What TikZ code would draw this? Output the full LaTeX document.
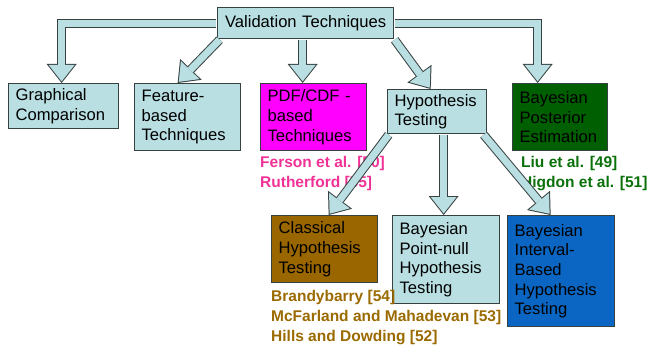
\documentclass[tikz,border=0pt]{standalone}
\usepackage{fontspec}
\setmainfont{Liberation Sans}
\usepackage{xcolor}
\usetikzlibrary{arrows.meta,positioning}

\definecolor{boxblue}{RGB}{185,223,226}
\definecolor{edgegray}{RGB}{55,65,65}
\definecolor{pdfpink}{RGB}{255,0,255}
\definecolor{postgreen}{RGB}{0,95,0}
\definecolor{clasbrown}{RGB}{153,102,0}
\definecolor{intvblue}{RGB}{10,102,194}
\definecolor{refpink}{RGB}{240,50,150}
\definecolor{refgreen}{RGB}{10,112,10}
\definecolor{refbrown}{RGB}{154,106,0}

\begin{document}
\begin{tikzpicture}[
  x=1pt, y=-1pt,
  box/.style 2 args={draw=edgegray, line width=1.3pt, fill=boxblue, anchor=north west,
    align=left, inner xsep=7pt, inner ysep=0pt, minimum width=#1pt, text width=#1pt-14pt,
    minimum height=#2pt, font=\fontsize{16.6}{19.6}\selectfont},
  refs/.style={anchor=north west, inner sep=0pt, align=left,
    font=\fontsize{15.5}{20}\selectfont\bfseries},
  fat/.style={draw=edgegray, line width=9pt, line join=miter, shorten <=0.6pt,
    -{Triangle[length=19pt, width=30pt, line width=0pt]},
    postaction={draw=boxblue, line width=7pt, line join=miter, shorten >=1.6pt,
      -{Triangle[length=16.4pt, width=25.9pt, line width=0pt]}}}
]
\useasboundingbox (0,0) rectangle (647,350);

% top row
\node[box={176}{31}, align=center] (valid) at (217,7) {Validation Techniques};
\node[box={110}{45}] (graph) at (8,83) {Graphical\\Comparison};
\node[box={106}{67}] (feat) at (134,83) {Feature-\\based\\Techniques};
\node[box={106}{67}, fill=pdfpink] (pdf) at (260,83) {PDF/CDF -\\based\\Techniques};
\node[box={99}{44}] (hyp) at (387,89) {Hypothesis\\Testing};
\node[box={95}{67}, fill=postgreen] (post) at (512,83) {Bayesian\\Posterior\\Estimation};

% bottom row
\node[box={106}{67}, fill=clasbrown] (clas) at (271,215) {Classical\\Hypothesis\\Testing};
\node[box={107}{88}] (pnull) at (392,215) {Bayesian\\Point-null\\Hypothesis\\Testing};
\node[box={107}{111}, fill=intvblue] (intv) at (507,215) {Bayesian\\Interval-\\Based\\Hypothesis\\Testing};

% references
\node[refs, text=refpink] (pdfref) at (260,156) {Ferson et al. [50]\\Rutherford [55]};
\node[refs, text=refgreen] (postref) at (521,156) {Liu et al. [49]\\Higdon et al. [51]};
\node[refs, text=refbrown] (clasref) at (271,290) {Brandybarry [54]\\McFarland and Mahadevan [53]\\Hills and Dowding [52]};

% arrows
\draw[fat] (valid.west) -| ([xshift=-2pt]graph.north);
\draw[fat] (valid.east) -| ([xshift=-22.5pt]post.north);
\draw[fat] ([xshift=3pt]valid.south west) -- ([xshift=-10pt]feat.north);
\draw[fat] ([xshift=-11pt]pdf.north |- valid.south) -- ([xshift=-11pt]pdf.north);
\draw[fat] (valid.south east) -- ([xshift=-6.5pt]hyp.north);
\draw[fat] ([xshift=2pt]hyp.south west) -- ([xshift=4pt]clas.north);
\draw[fat] ([xshift=-2.5pt]pnull.north |- hyp.south) -- ([xshift=-2.5pt]pnull.north);
\draw[fat] ([xshift=-4pt]hyp.south east) -- ([xshift=-10.5pt]intv.north);
\end{tikzpicture}
\end{document}
